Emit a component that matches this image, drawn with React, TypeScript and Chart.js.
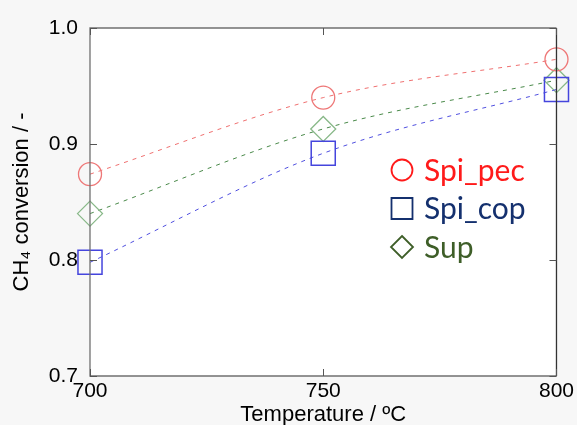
import React, { useEffect, useRef } from "react";
import { Chart, registerables } from "chart.js";

Chart.register(...registerables);

const temperatures = [700, 750, 800];
const spiPec = [0.874, 0.94, 0.973];
const spiCop = [0.798, 0.892, 0.947];
const sup = [0.84, 0.913, 0.955];
const seriesLabels = ["Spi_pec", "Spi_cop", "Sup"];
const xTickValues = [700, 750, 800];
const yTickValues = [0.7, 0.8, 0.9, 1.0];

const TICK_FONT = "'Liberation Sans', Arial, sans-serif";

const legendStyles = [
  { style: "circle", color: "#ff1a1a" },
  { style: "rect", color: "#14306e" },
  { style: "rectRot", color: "#3e5e28" },
];

const framePlugin = {
  id: "frameAndLegend",
  beforeDraw(chart: any) {
    const { ctx, chartArea } = chart;
    ctx.save();
    ctx.fillStyle = "#f7f7f7";
    ctx.fillRect(0, 0, chart.width, chart.height);
    ctx.fillStyle = "#ffffff";
    ctx.fillRect(chartArea.left, chartArea.top, chartArea.right - chartArea.left, chartArea.bottom - chartArea.top);
    ctx.restore();
  },
  afterDraw(chart: any) {
    const { ctx, chartArea, scales } = chart;
    const { left, right, top, bottom } = chartArea;
    ctx.save();
    // frame
    ctx.lineWidth = 1.3;
    ctx.strokeStyle = "#707070";
    ctx.beginPath();
    ctx.moveTo(right, top);
    ctx.lineTo(left, top);
    ctx.lineTo(left, bottom);
    ctx.lineTo(right, bottom);
    ctx.stroke();
    ctx.strokeStyle = "#333333";
    ctx.beginPath();
    ctx.moveTo(right, top);
    ctx.lineTo(right, bottom);
    ctx.stroke();
    // inward ticks
    ctx.strokeStyle = "#555555";
    ctx.lineWidth = 1;
    const tl = 7;
    yTickValues.forEach((v) => {
      const y = Math.round(scales.y.getPixelForValue(v)) + 0.5;
      ctx.beginPath();
      ctx.moveTo(left, y);
      ctx.lineTo(left + tl, y);
      ctx.moveTo(right, y);
      ctx.lineTo(right - tl, y);
      ctx.stroke();
    });
    xTickValues.forEach((v) => {
      const x = Math.round(scales.x.getPixelForValue(v)) + 0.5;
      ctx.beginPath();
      ctx.moveTo(x, bottom);
      ctx.lineTo(x, bottom - tl);
      ctx.moveTo(x, top);
      ctx.lineTo(x, top + tl);
      ctx.stroke();
    });
    // legend
    const mx = left + 312;
    const y0 = top + 142;
    const dy = 38.5;
    chart.data.datasets.forEach((ds: any, i: number) => {
      const st = legendStyles[i];
      const y = y0 + i * dy;
      ctx.strokeStyle = st.color;
      ctx.lineWidth = 1.8;
      ctx.beginPath();
      if (st.style === "circle") {
        ctx.arc(mx, y, 10.5, 0, Math.PI * 2);
      } else if (st.style === "rect") {
        ctx.rect(mx - 10.5, y - 10.5, 21, 21);
      } else {
        ctx.moveTo(mx, y - 11);
        ctx.lineTo(mx + 11, y);
        ctx.lineTo(mx, y + 11);
        ctx.lineTo(mx - 11, y);
        ctx.closePath();
      }
      ctx.stroke();
      ctx.fillStyle = st.color;
      ctx.font = "30px Lato, 'Noto Sans', sans-serif";
      ctx.textBaseline = "middle";
      ctx.textAlign = "left";
      ctx.fillText(ds.label, mx + 22, y + 1);
    });
    ctx.restore();
  },
};

export default function App() {
  const canvasRef = useRef<HTMLCanvasElement | null>(null);

  useEffect(() => {
    if (!canvasRef.current) return;
    const mk = (vals: number[]) => temperatures.map((t, i) => ({ x: t, y: vals[i] }));
    const chart = new Chart(canvasRef.current, {
      type: "line",
      data: {
        datasets: [
          {
            label: seriesLabels[0],
            data: mk(spiPec),
            borderColor: "#f07070",
            borderWidth: 1,
            borderDash: [4, 5],
            pointStyle: "circle",
            pointRadius: 11.5,
            pointBorderWidth: 1.3,
            pointBorderColor: "#ee7777",
            pointBackgroundColor: "rgba(0,0,0,0)",
            cubicInterpolationMode: "monotone",
            clip: false,
          },
          {
            label: seriesLabels[1],
            data: mk(spiCop),
            borderColor: "#5050e0",
            borderWidth: 1,
            borderDash: [4, 5],
            pointStyle: "rect",
            pointRadius: 17,
            pointBorderWidth: 1.5,
            pointBorderColor: "#4545dd",
            pointBackgroundColor: "rgba(0,0,0,0)",
            cubicInterpolationMode: "monotone",
            clip: false,
          },
          {
            label: seriesLabels[2],
            data: mk(sup),
            borderColor: "#4a8a4a",
            borderWidth: 1,
            borderDash: [4, 5],
            pointStyle: "rectRot",
            pointRadius: 12.5,
            pointBorderWidth: 1.3,
            pointBorderColor: "#88b888",
            pointBackgroundColor: "rgba(0,0,0,0)",
            cubicInterpolationMode: "monotone",
            clip: false,
          },
        ],
      },
      options: {
        animation: false,
        responsive: false,
        layout: { padding: { top: 28, right: 20, left: 0, bottom: 0 } },
        plugins: { legend: { display: false }, tooltip: { enabled: false } },
        scales: {
          x: {
            type: "linear",
            min: 700,
            max: 800,
            afterFit: (s: any) => {
              s.height = 49;
            },
            ticks: {
              stepSize: 50,
              padding: 3,
              color: "#000",
              font: { family: TICK_FONT, size: 21 },
              maxRotation: 0,
            },
            grid: { display: false, drawTicks: false },
            border: { display: false },
            title: {
              display: true,
              text: "Temperature / ºC",
              color: "#000",
              font: { family: TICK_FONT, size: 22, lineHeight: 1 },
              padding: { top: 0, bottom: -1 },
            },
          },
          y: {
            type: "linear",
            min: 0.7,
            max: 1.0,
            afterFit: (s: any) => {
              s.width = 90;
            },
            ticks: {
              stepSize: 0.1,
              padding: 12,
              color: "#000",
              font: { family: TICK_FONT, size: 21 },
              callback: (v: any) => Number(v).toFixed(1),
            },
            grid: { display: false, drawTicks: false },
            border: { display: false },
            title: {
              display: true,
              text: "CH₄ conversion / -",
              color: "#000",
              font: { family: TICK_FONT, size: 22, lineHeight: 1 },
              padding: { top: 11, bottom: 0 },
            },
          },
        },
      },
      plugins: [framePlugin],
    } as any);
    return () => chart.destroy();
  }, []);

  return (
    <div style={{ position: "fixed", left: 0, top: 0, width: 577, height: 425 }}>
      <canvas ref={canvasRef} width={577} height={425} style={{ display: "block" }} />
    </div>
  );
}
